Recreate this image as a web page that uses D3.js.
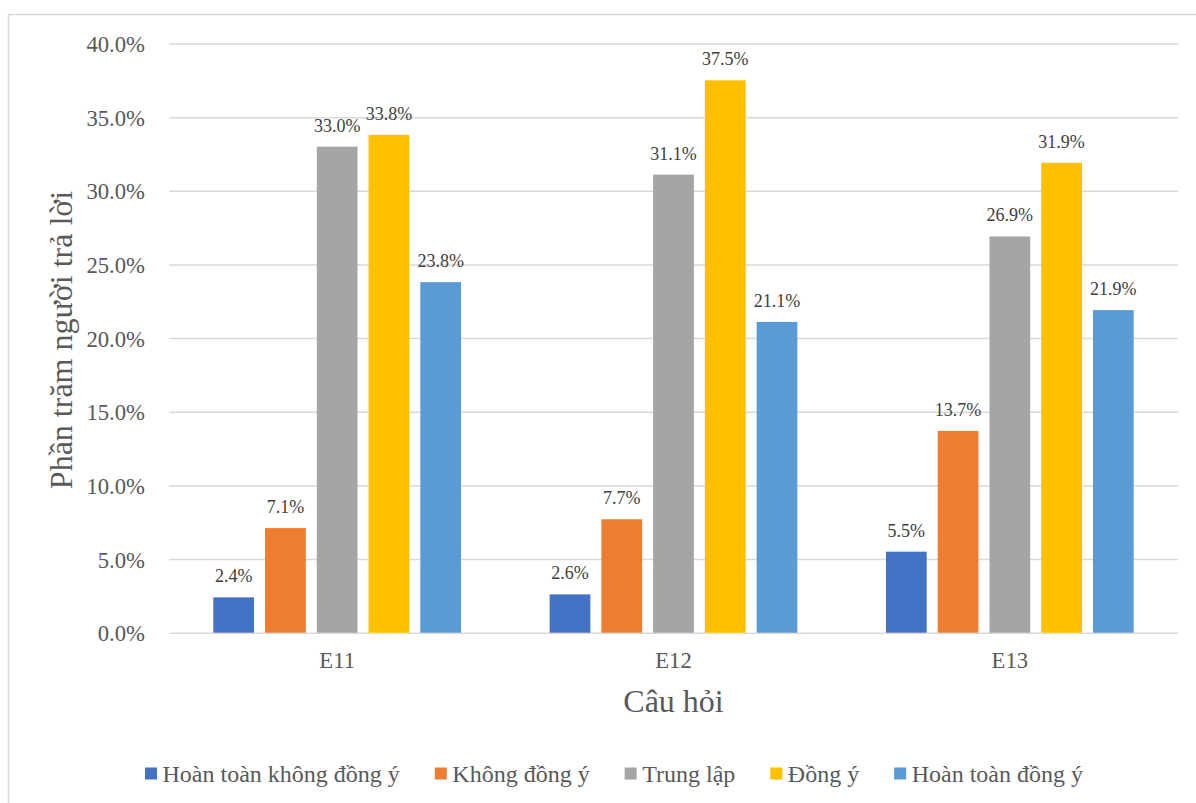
<!DOCTYPE html>
<html>
<head>
<meta charset="utf-8">
<script src="https://cdn.jsdelivr.net/npm/d3@7"></script>
<style>
  html, body { margin: 0; padding: 0; background: #ffffff; }
  svg { display: block; font-family: "Liberation Serif", "Times New Roman", serif; }
</style>
</head>
<body>
<svg id="chart" width="1196" height="803"></svg>
<script>
// Survey questions (x-axis categories)
const categories = ["E11", "E12", "E13"];

// Response options (series)
const seriesNames = ["Hoàn toàn không đồng ý", "Không đồng ý", "Trung lập", "Đồng ý", "Hoàn toàn đồng ý"];
const seriesColors = ["#4472C4", "#ED7D31", "#A5A5A5", "#FFC000", "#5B9BD5"];

// Percent of respondents per question, one array per response option
const stronglyDisagree = [2.4, 2.6, 5.5];
const disagree = [7.1, 7.7, 13.7];
const neutral = [33.0, 31.1, 26.9];
const agree = [33.8, 37.5, 31.9];
const stronglyAgree = [23.8, 21.1, 21.9];

// Y-axis ticks
const yTicks = [0, 5, 10, 15, 20, 25, 30, 35, 40];

const seriesValues = [stronglyDisagree, disagree, neutral, agree, stronglyAgree];

const svg = d3.select("#chart");

// Chart area border
svg.append("rect")
  .attr("x", 8.5).attr("y", 14.5)
  .attr("width", 1220).attr("height", 820)
  .attr("fill", "none")
  .attr("stroke", "#d9d9d9")
  .attr("stroke-width", 1.5);

const plot = { left: 169, right: 1178, top: 43.5, bottom: 632.7 };

const y = d3.scaleLinear().domain([0, 40]).range([plot.bottom, plot.top]);
const x0 = d3.scaleBand().domain(categories).range([plot.left, plot.right]).padding(0);
const groupPad = 44.3;
const x1 = d3.scaleBand()
  .domain(seriesNames)
  .range([groupPad, x0.bandwidth() - groupPad])
  .paddingInner(0.213)
  .paddingOuter(0);

const fmt = d => d.toFixed(1) + "%";

// Gridlines + y-axis labels
const yAxis = d3.axisLeft(y)
  .tickValues(yTicks)
  .tickFormat(fmt)
  .tickSize(-(plot.right - plot.left))
  .tickPadding(24);

const gy = svg.append("g")
  .attr("transform", `translate(${plot.left},0)`)
  .call(yAxis);
gy.attr("font-family", null);
gy.select(".domain").remove();
gy.selectAll(".tick line").attr("stroke", "#d9d9d9").attr("stroke-width", 1.5);
gy.selectAll(".tick text")
  .attr("fill", "#595959")
  .attr("font-size", "22.7px")
  .attr("dy", "0.35em");

// X-axis category labels
const xAxis = d3.axisBottom(x0).tickSize(0).tickPadding(0);
const gx = svg.append("g")
  .attr("transform", `translate(0,${plot.bottom})`)
  .call(xAxis);
gx.attr("font-family", null);
gx.select(".domain").remove();
gx.selectAll(".tick text")
  .attr("fill", "#595959")
  .attr("font-size", "22.7px")
  .attr("dy", null)
  .attr("y", 35.5);

// Bars
const rows = [];
categories.forEach((c, ci) => {
  seriesNames.forEach((s, si) => {
    rows.push({ cat: c, series: s, color: seriesColors[si], value: seriesValues[si][ci] });
  });
});

const bars = svg.append("g");
bars.selectAll("rect")
  .data(rows)
  .join("rect")
  .attr("x", d => x0(d.cat) + x1(d.series))
  .attr("y", d => y(d.value))
  .attr("width", x1.bandwidth())
  .attr("height", d => y(0) - y(d.value))
  .attr("fill", d => d.color);

// Data labels
bars.selectAll("text")
  .data(rows)
  .join("text")
  .attr("x", d => x0(d.cat) + x1(d.series) + x1.bandwidth() / 2)
  .attr("y", d => y(d.value) - 15)
  .attr("text-anchor", "middle")
  .attr("font-size", "18px")
  .attr("fill", "#404040")
  .text(d => fmt(d.value));

// Axis titles
svg.append("text")
  .attr("x", (plot.left + plot.right) / 2)
  .attr("y", 712)
  .attr("text-anchor", "middle")
  .attr("font-size", "32px")
  .attr("fill", "#595959")
  .text("Câu hỏi");

svg.append("text")
  .attr("transform", `translate(71.5,340) rotate(-90)`)
  .attr("text-anchor", "middle")
  .attr("font-size", "32px")
  .attr("fill", "#595959")
  .text("Phần trăm người trả lời");

// Legend
const legend = svg.append("g");
let lx = 145;
seriesNames.forEach((name, i) => {
  const item = legend.append("g");
  item.append("rect")
    .attr("x", lx).attr("y", 767.5)
    .attr("width", 12).attr("height", 12)
    .attr("fill", seriesColors[i]);
  const t = item.append("text")
    .attr("x", lx + 17.5)
    .attr("y", 781.5)
    .attr("font-size", "24px")
    .attr("fill", "#595959")
    .text(name);
  lx = lx + 17.5 + t.node().getComputedTextLength() + 35;
});
</script>
</body>
</html>
